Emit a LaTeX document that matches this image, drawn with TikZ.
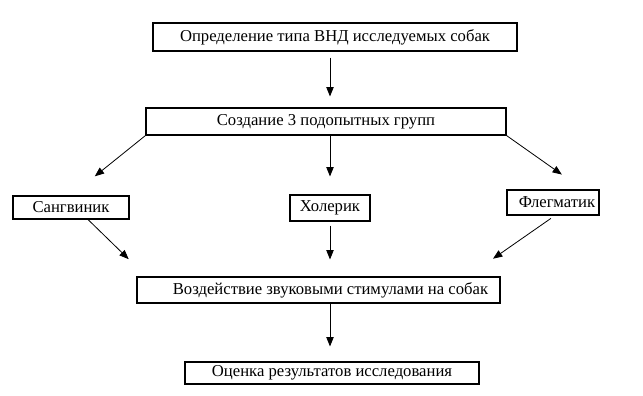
\documentclass[tikz,border=0pt]{standalone}
\usepackage{fontspec}
\setmainfont{Liberation Serif}
\usetikzlibrary{arrows.meta,calc}

\tikzset{
    blok/.style={draw=black, line width=0.8pt, inner sep=0pt, font=\fontsize{12.5}{14}\selectfont},
    strelka/.style={-{Triangle[length=7pt,width=5.5pt]}, line width=0.6pt},
}

\begin{document}
\begin{tikzpicture}[x=0.75pt, y=-0.75pt]
                \path[use as bounding box] (0,0) rectangle (643,396);
                \node[blok, minimum width=273pt, minimum height=21pt] (tip) at (335,37) {Определение типа ВНД исследуемых собак};
                \node[blok, minimum width=270pt, minimum height=20.25pt] (grup) at (326,121.5) {Создание 3 подопытных групп};
                \node[blok, minimum width=87pt, minimum height=17.25pt] (sang) at (71,207.5) {Сангвиник};
                \node[blok, minimum width=60pt, minimum height=19.5pt] (hol) at (330,208) {Холерик};
                \node[blok, minimum width=69pt, minimum height=18.75pt] (fleg) at (553,202.5) {\hspace*{6pt}Флегматик};
                \node[blok, minimum width=272.25pt, minimum height=19.5pt] (vozd) at (318.5,290) {\hspace*{18pt}Воздействие звуковыми стимулами на собак};
                \node[blok, minimum width=220.5pt, minimum height=16.5pt] (ocen) at (332,373) {Оценка результатов исследования};
                \draw[strelka, shorten <=4.5pt, shorten >=8.25pt] (tip.south -| hol) -- (grup.north -| hol);
                \draw[strelka, shorten >=22.9pt] (grup.south west) -- (sang.north);
                \draw[strelka, shorten >=13.5pt] (grup.south -| hol) -- (hol.north);
                \draw[strelka, shorten >=19.4pt] (grup.south east) -- ([xshift=22.5pt]fleg.north);
                \draw[strelka, shorten >=18.6pt] ([xshift=12.75pt]sang.south) -- ([xshift=7.5pt]vozd.north west);
                \draw[strelka, shorten <=3pt, shorten >=12.75pt] (hol.south) -- (vozd.north -| hol);
                \draw[strelka, shorten <=3.75pt, shorten >=23.3pt] ([xshift=1.5pt]fleg.south) -- ([xshift=-24.75pt]vozd.north east);
                \draw[strelka, shorten >=11.25pt] (vozd.south -| hol) -- (ocen.north -| hol);
            \end{tikzpicture}
\end{document}
